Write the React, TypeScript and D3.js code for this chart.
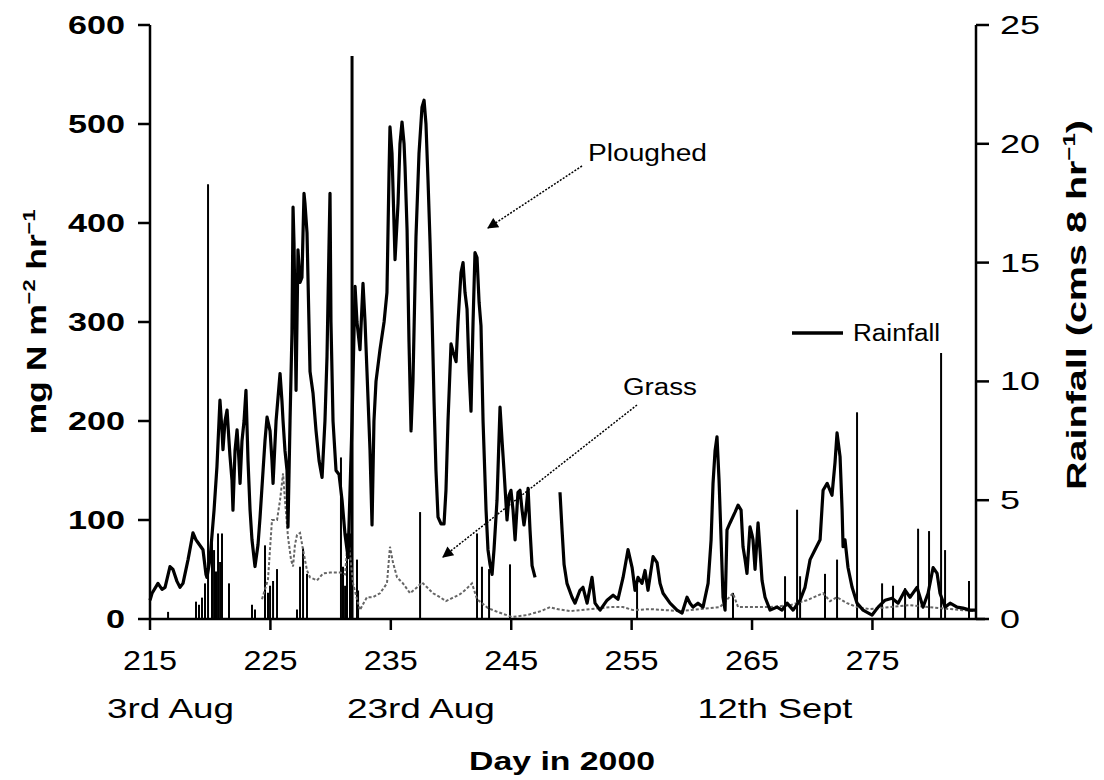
import React from "react";
import * as d3 from "d3";

// ploughed field N flux (mg N m-2 hr-1), null = gap in record
const ploughedDays = [
  215.0, 215.17, 215.66, 216.0, 216.25, 216.66, 216.91, 217.24, 217.49, 217.74, 218.16, 218.57, 218.82, 218.99,
  219.4, 219.65, 219.73, 219.98, 220.32, 220.56, 220.81, 220.98, 221.06, 221.23, 221.4, 221.56, 221.64, 221.81,
  221.89, 222.06, 222.23, 222.39, 222.48, 222.64, 222.81, 222.97, 223.14, 223.31, 223.47, 223.72, 223.97, 224.14,
  224.39, 224.55, 224.72, 224.97, 225.13, 225.22, 225.47, 225.8, 225.96, 226.05, 226.21, 226.38, 226.46, 226.63,
  226.79, 226.88, 226.96, 227.13, 227.29, 227.46, 227.62, 227.79, 227.87, 228.04, 228.29, 228.54, 228.79, 229.04,
  229.29, 229.53, 229.7, 229.87, 229.95, 230.03, 230.2, 230.45, 230.7, 230.95, 231.2, 231.45, 231.78, 232.03,
  232.19, 232.44, 232.69, 232.86, 233.02, 233.27, 233.44, 233.6, 233.77, 234.1, 234.44, 234.68, 234.85, 234.93,
  235.1, 235.35, 235.6, 235.76, 235.93, 236.1, 236.18, 236.35, 236.51, 236.68, 236.84, 237.09, 237.34, 237.59,
  237.76, 237.92, 238.09, 238.26, 238.42, 238.59, 238.75, 238.92, 239.17, 239.42, 239.58, 239.75, 240.0, 240.17,
  240.42, 240.58, 240.83, 241.0, 241.16, 241.33, 241.5, 241.66, 241.83, 241.99, 242.16, 242.33, 242.49, 242.66,
  242.91, 243.07, 243.24, 243.41, 243.57, 243.82, 244.07, 244.24, 244.4, 244.65, 244.82, 244.98, 245.15, 245.32,
  245.56, 245.73, 245.9, 246.06, 246.23, 246.4, 246.56, 246.73, 246.98,
  248.0,
  249.05, 249.22, 249.39, 249.63, 250.05, 250.3, 250.71, 250.96, 251.3, 251.71, 251.96, 252.38, 252.96, 253.46,
  253.87, 254.29, 254.7, 255.04, 255.28, 255.53, 255.86, 256.11, 256.36, 256.78, 257.11, 257.36, 257.61, 258.19,
  258.77, 259.19, 259.6, 259.85, 260.1, 260.51, 260.93, 261.35, 261.6, 261.76, 261.93, 262.09, 262.26, 262.43,
  262.59, 262.76, 262.92, 263.17, 263.59, 263.84, 264.09, 264.25, 264.42, 264.58, 264.83, 265.0, 265.08, 265.25,
  265.5, 265.66, 265.83, 266.08, 266.5, 267.08, 267.49, 267.91, 268.41, 268.99, 269.4, 269.82, 270.23, 270.65,
  270.9, 271.24, 271.64, 271.89, 272.06, 272.31, 272.48, 272.56, 272.72, 272.97, 273.31, 273.72, 274.22, 274.97,
  275.47, 276.05, 276.63, 277.13, 277.71, 278.12, 278.7, 279.2, 279.62, 280.04, 280.37, 280.61, 281.03, 281.45,
  282.03, 282.52, 283.11, 283.52,
];
const ploughedN: (number | null)[] = [
  19, 26, 36, 30, 32, 53, 50, 38, 32, 36, 60, 87, 80, 77,
  70, 45, 42, 60, 110, 154, 221, 190, 171, 200, 211, 180, 165, 140,
  110, 170, 191, 160, 137, 180, 200, 231, 160, 110, 80, 53, 75, 103,
  150, 180, 204, 190, 160, 137, 200, 248, 220, 200, 170, 150, 93, 200,
  289, 416, 380, 231, 373, 340, 345, 430, 420, 390, 250, 228, 190, 160,
  143, 200, 265, 380, 430, 300, 200, 150, 146, 120, 85, 62, 200, 336,
  300, 272, 339, 300, 250, 171, 95, 200, 240, 272, 300, 330, 450, 497,
  470, 363, 420, 480, 502, 480, 457, 393, 280, 190, 240, 386, 470, 517,
  524, 500, 443, 380, 309, 220, 150, 103, 96, 96, 130, 200, 278, 270,
  260, 300, 350, 360, 330, 313, 250, 210, 300, 370, 365, 320, 296, 200,
  110, 70, 55, 45, 70, 120, 214, 180, 150, 100, 125, 130, 110, 80,
  128, 130, 110, 95, 110, 132, 90, 54, 42,
  null,
  128, 90, 55, 36, 22, 16, 29, 32, 16, 42, 16, 9, 19, 24,
  20, 42, 70, 52, 29, 42, 36, 49, 29, 63, 57, 36, 26, 16,
  9, 6, 22, 16, 12, 16, 12, 36, 80, 137, 170, 184, 140, 80,
  22, 9, 90, 97, 108, 115, 110, 73, 60, 46, 93, 85, 80, 50,
  97, 70, 39, 22, 9, 12, 9, 16, 9, 19, 32, 60, 70, 80,
  130, 137, 125, 158, 188, 164, 110, 73, 80, 52, 32, 16, 9, 4,
  12, 19, 21, 16, 29, 22, 32, 12, 26, 52, 46, 26, 12, 16,
  12, 11, 9, 9,
];

// grass field N flux
const grassDays = [
  224.3, 224.8, 225.13, 225.55, 225.8, 226.05, 226.21, 226.46, 226.71, 226.88, 227.04, 227.21, 227.46, 227.71,
  228.04, 228.29, 228.87, 229.37, 229.95, 230.78, 231.2, 231.45, 231.61, 231.86, 232.19, 232.44, 232.69, 233.02,
  233.52, 234.1, 234.68, 234.93, 235.18, 235.52, 236.01, 236.6, 237.18, 237.59, 238.01, 238.5, 239.09, 239.58,
  240.08, 240.75, 241.25, 241.74, 242.16, 243.07, 243.9, 245.07, 246.31, 247.48, 248.22, 248.8, 249.88, 251.54,
  253.21, 254.29, 255.12, 256.53, 259.02, 260.68, 262.34, 263.42, 263.84, 264.42, 265.66, 266.5, 268.16, 269.57,
  270.9, 271.48, 272.06, 272.89, 273.72, 274.8, 276.46, 278.12, 279.78, 281.45, 283.52,
];
const grassN = [
  20, 40, 100, 100, 120, 147, 120, 83, 60, 53, 75, 85, 87, 70,
  49, 42, 39, 46, 47, 47, 45, 83, 65, 36, 20, 9, 15, 22,
  22, 26, 36, 73, 57, 42, 36, 26, 32, 37, 32, 26, 22, 18,
  21, 25, 30, 36, 20, 11, 7, 2, 4, 8, 12, 10, 8, 10,
  12, 12, 9, 10, 8, 10, 12, 26, 12, 12, 12, 12, 14, 19,
  26, 18, 22, 16, 12, 10, 12, 14, 12, 10, 8,
];

// rainfall (cms 8 hr-1)
const rainDays = [
  216.5, 218.82, 219.07, 219.32, 219.57, 219.82, 220.15, 220.32, 220.48, 220.65, 220.82, 220.98, 221.56, 223.47,
  223.72, 224.55, 224.8, 224.97, 225.22, 225.55, 227.21, 227.46, 227.71, 228.04, 230.86, 231.03, 231.2, 231.36,
  231.61, 231.78, 232.19, 232.28, 237.43, 242.16, 242.57, 243.16, 244.9, 255.45, 263.42, 267.74, 268.74, 268.99,
  271.06, 272.06, 273.72, 275.8, 276.71, 277.71, 278.79, 279.7, 280.7, 281.03, 283.02,
];
const rainCm = [
  0.3, 0.73, 0.6, 0.9, 1.5, 18.3, 3.45, 2.9, 2.0, 3.6, 2.4, 3.6, 1.5, 0.6,
  0.4, 3.1, 1.1, 1.4, 1.6, 2.1, 0.4, 2.2, 3.0, 1.9, 6.8, 2.2, 1.4, 3.6,
  3.6, 23.7, 2.5, 1.2, 4.5, 3.6, 2.2, 2.1, 2.3, 1.5, 1.1, 1.8, 4.6, 1.8,
  1.9, 2.5, 8.7, 1.5, 1.4, 1.3, 3.8, 3.7, 11.2, 2.9, 1.6,
];

const leftTicks = [0, 100, 200, 300, 400, 500, 600];
const rightTicks = [0, 5, 10, 15, 20, 25];
const dayTicks = [215, 225, 235, 245, 255, 265, 275];
const dateLabels = ["3rd Aug", "23rd Aug", "12th Sept"];
const dateLabelDays = [216.7, 237.5, 266.9];

const FONT = "'Liberation Sans', Arial, sans-serif";

export default function App() {
  const x = d3.scaleLinear().domain([215, 283.6]).range([150, 976]);
  const yL = d3.scaleLinear().domain([0, 600]).range([619, 25]);
  const yR = d3.scaleLinear().domain([0, 25]).range([619, 25]);

  const line = d3
    .line<[number, number | null]>()
    .defined((d) => d[1] != null)
    .x((d) => x(d[0]))
    .y((d) => yL(d[1] as number));

  const ploughedPath = line(ploughedDays.map((d, i) => [d, ploughedN[i]]));
  const grassPath = line(grassDays.map((d, i) => [d, grassN[i]]));

  const x0 = x(215), x1 = x(283.6);

  return (
    <svg width={1104} height={780} style={{ position: "absolute", left: 0, top: 0, background: "#fff" }}>
      <defs>
        <marker id="arr" viewBox="0 0 10 10" refX="9" refY="5" markerWidth="13" markerHeight="11"
          markerUnits="userSpaceOnUse" orient="auto">
          <path d="M0,0 L10,5 L0,10 z" fill="#000" />
        </marker>
      </defs>

      {/* rainfall bars */}
      {rainDays.map((d, i) => (
        <line key={i} x1={x(d)} x2={x(d)} y1={yR(0)} y2={yR(rainCm[i])} stroke="#000"
          strokeWidth={rainCm[i] > 20 ? 3 : 2} />
      ))}

      <path d={grassPath || ""} fill="none" stroke="#666" strokeWidth={2} strokeDasharray="3,2" />
      <path d={ploughedPath || ""} fill="none" stroke="#000" strokeWidth={3.2} strokeLinejoin="round" />

      {/* axes */}
      <g stroke="#000" strokeWidth={2.5}>
        <line x1={x0} x2={x0} y1={yL(600)} y2={yL(0)} />
        <line x1={x1} x2={x1} y1={yR(25)} y2={yR(0)} />
        <line x1={x0} x2={985} y1={yL(0)} y2={yL(0)} />
        {leftTicks.map((t) => (
          <line key={"l" + t} x1={x0 - 12} x2={x0} y1={yL(t)} y2={yL(t)} />
        ))}
        {rightTicks.map((t) => (
          <line key={"r" + t} x1={x1} x2={x1 + 13} y1={yR(t)} y2={yR(t)} />
        ))}
        {dayTicks.map((t) => (
          <line key={"d" + t} x1={x(t)} x2={x(t)} y1={yL(0)} y2={yL(0) + 11} />
        ))}
      </g>

      <g fontFamily={FONT} fill="#000">
        {leftTicks.map((t) => (
          <text key={"lt" + t} x={125} y={yL(t) + 9} textAnchor="end" fontSize={26} fontWeight="bold"
            textLength={String(t).length * 19} lengthAdjust="spacingAndGlyphs">{t}</text>
        ))}
        {rightTicks.map((t) => (
          <text key={"rt" + t} x={1000} y={yR(t) + 9} fontSize={26}
            textLength={String(t).length * 20} lengthAdjust="spacingAndGlyphs">{t}</text>
        ))}
        {dayTicks.map((t) => (
          <text key={"dt" + t} x={x(t)} y={670} textAnchor="middle" fontSize={28}
            textLength={54} lengthAdjust="spacingAndGlyphs">{t}</text>
        ))}
        {dateLabels.map((s, i) => (
          <text key={s} x={x(dateLabelDays[i])} y={718} textAnchor="middle" fontSize={28}
            textLength={[127, 148, 155][i]} lengthAdjust="spacingAndGlyphs">{s}</text>
        ))}
        <text x={562} y={770} textAnchor="middle" fontSize={25} fontWeight="bold" textLength={186}
          lengthAdjust="spacingAndGlyphs">Day in 2000</text>

        <text transform="translate(46,322) rotate(-90)" textAnchor="middle" fontSize={28} fontWeight="bold"
          textLength={225} lengthAdjust="spacingAndGlyphs">
          mg N m<tspan fontSize={17} dy={-11}>−2</tspan><tspan dy={11}> hr</tspan>
          <tspan fontSize={17} dy={-11}>−1</tspan>
        </text>
        <text transform="translate(1086,305) rotate(-90)" textAnchor="middle" fontSize={28} fontWeight="bold"
          textLength={370} lengthAdjust="spacingAndGlyphs">
          Rainfall (cms 8 hr<tspan fontSize={17} dy={-11}>−1</tspan><tspan dy={11}>)</tspan>
        </text>

        {/* annotations */}
        <text x={588} y={161} fontSize={23} textLength={119} lengthAdjust="spacingAndGlyphs">Ploughed</text>
        <line x1={582} y1={166} x2={488} y2={228} stroke="#000" strokeWidth={1.5} strokeDasharray="2,1.5"
          markerEnd="url(#arr)" />
        <text x={623} y={395} fontSize={23} textLength={74} lengthAdjust="spacingAndGlyphs">Grass</text>
        <line x1={637} y1={405} x2={443} y2={557} stroke="#000" strokeWidth={1.5} strokeDasharray="2,1.5"
          markerEnd="url(#arr)" />

        <line x1={792} x2={843} y1={333} y2={333} stroke="#000" strokeWidth={3.5} />
        <text x={853} y={341} fontSize={23} textLength={87} lengthAdjust="spacingAndGlyphs">Rainfall</text>
      </g>
    </svg>
  );
}
